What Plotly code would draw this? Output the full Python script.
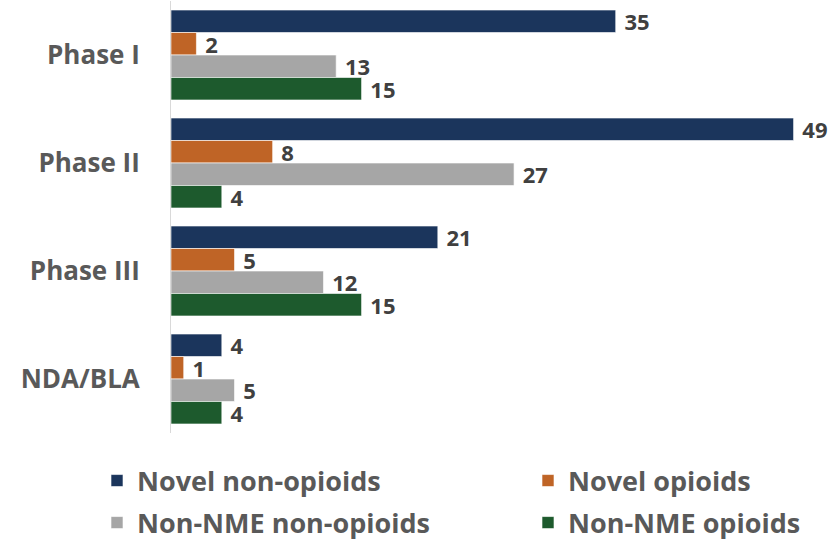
import plotly.graph_objects as go

categories = ["Phase I", "Phase II", "Phase III", "NDA/BLA"]
novel_non_opioids = [35, 49, 21, 4]
novel_opioids = [2, 8, 5, 1]
non_nme_non_opioids = [13, 27, 12, 5]
non_nme_opioids = [15, 4, 15, 4]

series_names = ["Novel non-opioids", "Novel opioids", "Non-NME non-opioids", "Non-NME opioids"]
series_values = [novel_non_opioids, novel_opioids, non_nme_non_opioids, non_nme_opioids]
series_colors = ["#1B355C", "#BF6426", "#A6A6A6", "#1D5A2D"]
legend_ids = ["legend", "legend2", "legend3", "legend4"]

FONT = "Open Sans"
fig = go.Figure()
for name, vals, color, lg in zip(series_names, series_values, series_colors, legend_ids):
    fig.add_trace(go.Bar(
        y=categories, x=vals, name=name, orientation="h",
        marker=dict(color=color, line=dict(color="rgba(255,255,255,0.6)", width=1)),
        text=vals, texttemplate=" %{x}", textposition="outside", constraintext="none",
        textfont=dict(family=FONT, size=22, color="#404040", weight="bold"),
        cliponaxis=False, legend=lg,
    ))

legend_common = dict(
    orientation="h", xref="container", yref="container",
    xanchor="left", yanchor="middle",
    font=dict(family=FONT, size=27, color="#595959", weight="bold"),
    itemwidth=30, bgcolor="rgba(0,0,0,0)",
)
col_x = [97 / 831, 528 / 831]
row_y = [1 - 481 / 541, 1 - 523 / 541]

fig.update_layout(
    width=831, height=541,
    margin=dict(l=171, r=12, t=1, b=108),
    paper_bgcolor="white", plot_bgcolor="white",
    barmode="group", bargap=0.167, bargroupgap=0,
    showlegend=True,
    legend=dict(x=col_x[0], y=row_y[0], **legend_common),
    legend2=dict(x=col_x[1], y=row_y[0], **legend_common),
    legend3=dict(x=col_x[0], y=row_y[1], **legend_common),
    legend4=dict(x=col_x[1], y=row_y[1], **legend_common),
    xaxis=dict(range=[0, 51], visible=False, showgrid=False, zeroline=False),
    yaxis=dict(autorange="reversed", showline=True, linecolor="#D9D9D9", linewidth=1,
               showgrid=False, ticks="", ticklabelstandoff=25,
               tickfont=dict(family=FONT, size=26, color="#595959", weight="bold")),
)

fig.write_html("out.html")
